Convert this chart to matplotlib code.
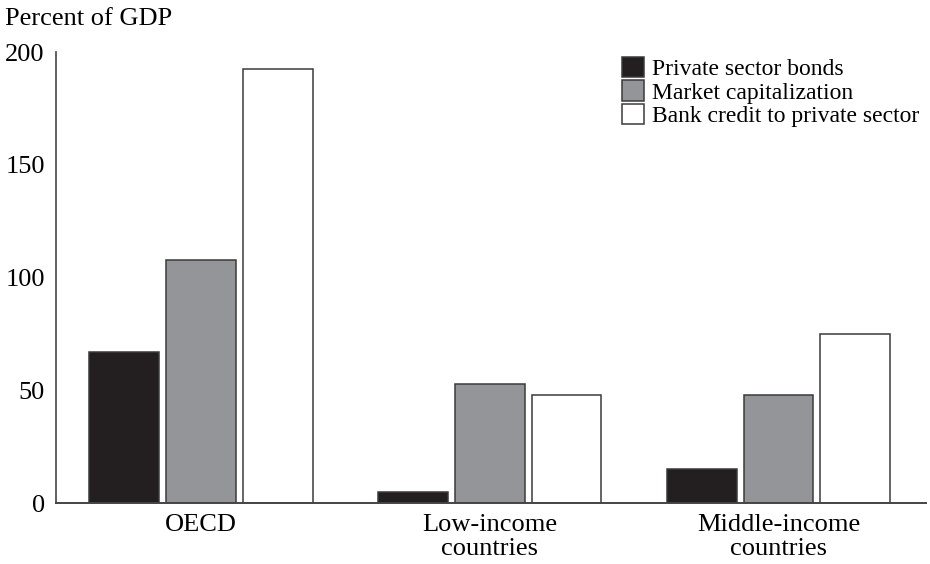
import matplotlib
matplotlib.use('Agg')
import matplotlib.pyplot as plt
import numpy as np

# data
groups = ['OECD', 'Low-income\ncountries', 'Middle-income\ncountries']
series_names = ['Private sector bonds', 'Market capitalization', 'Bank credit to private sector']
bonds = [67, 5, 15]
market_cap = [108, 53, 48]
bank_credit = [192.5, 48, 75]
yticks = [0, 50, 100, 150, 200]

colors = ['#231f20', '#939598', '#ffffff']
edge = '#3a3a3a'

plt.rcParams['font.family'] = ['Liberation Serif', 'DejaVu Serif']

fig = plt.figure(figsize=(9.3, 5.64), dpi=100)
ax = fig.add_axes([0.0602, 0.1076, 0.9355, 0.8002])

x = np.arange(len(groups))
width = 0.242
step = 0.266
for i, (vals, name) in enumerate(zip([bonds, market_cap, bank_credit], series_names)):
    ax.bar(x + (i - 1) * step, vals, width, color=colors[i], edgecolor=edge,
           linewidth=1.1, label=name, zorder=2)

ax.set_xlim(-0.502, 2.511)
ax.set_ylim(0, 200)
ax.set_yticks(yticks)
ax.set_yticklabels([str(v) for v in yticks], fontsize=19)
ax.set_xticks(x)
ax.set_xticklabels(groups, fontsize=19, linespacing=1.12)
ax.tick_params(axis='y', length=0, pad=8)
ax.tick_params(axis='x', length=0, pad=8)

for s in ['top', 'right']:
    ax.spines[s].set_visible(False)
ax.spines['left'].set_color('#444444')
ax.spines['bottom'].set_color('#444444')
ax.spines['left'].set_linewidth(1.2)
ax.spines['bottom'].set_linewidth(1.4)

fig.text(0.005, 0.966, 'Percent of GDP', fontsize=19, va='center', ha='left')

ax.legend(loc='upper left', bbox_to_anchor=(622 / 930, 1 - 57 / 564),
          bbox_transform=fig.transFigure, frameon=False, fontsize=17,
          handlelength=0.95, handleheight=0.95, handletextpad=0.3,
          labelspacing=0.0, borderpad=0, borderaxespad=0)

fig.savefig('out.png', dpi=100)
